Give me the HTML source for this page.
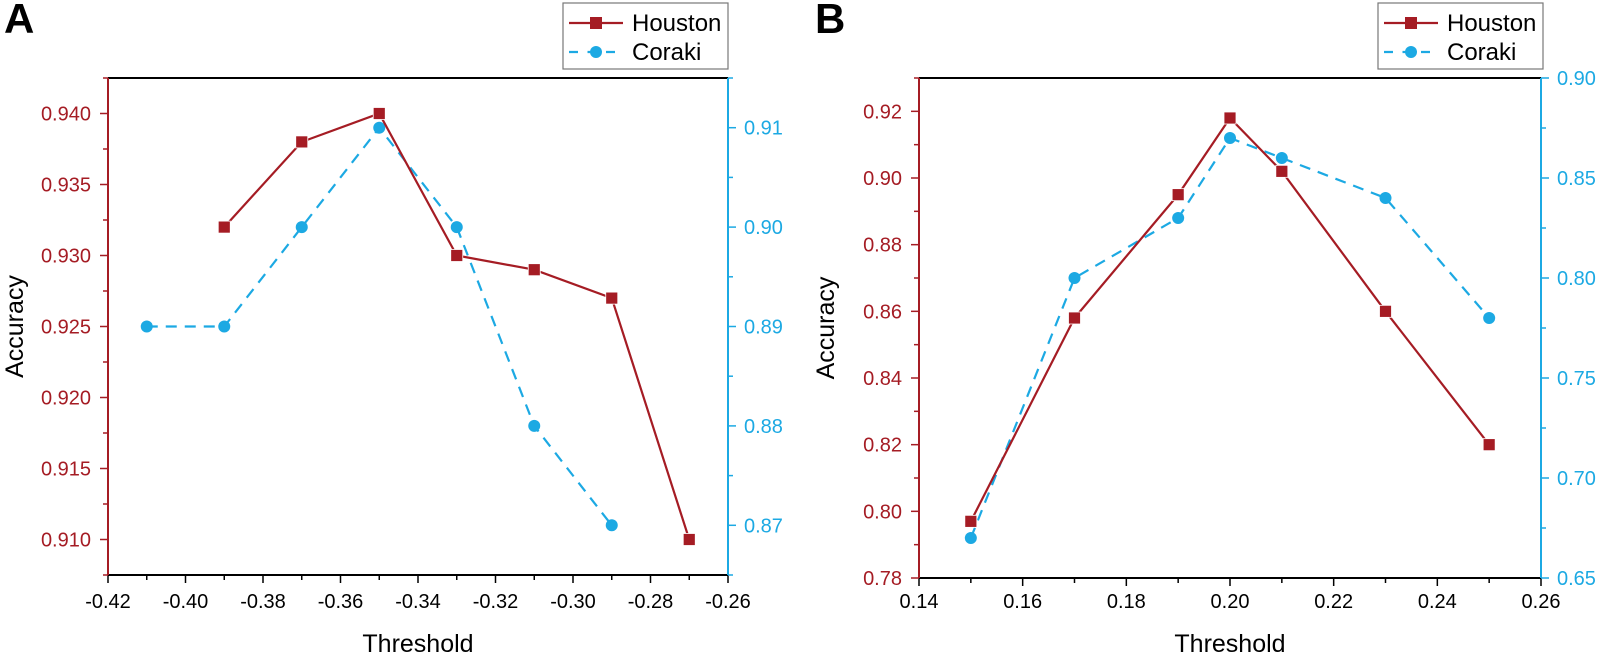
<!DOCTYPE html>
<html><head><meta charset="utf-8"><style>
html,body{margin:0;padding:0;background:#fff;}
svg{display:block;font-family:"Liberation Sans",Arial,sans-serif;}
</style></head><body>
<svg id="s" width="1600" height="655" xmlns="http://www.w3.org/2000/svg"></svg>
<script>
const R="#a51c24",B="#1ca9e3",K="#000";
let o="";
function panel(p){
  const {x0,x1,y0,y1,xmin,xmax,lmin,lmax,rmin,rmax,xmaj,xdec,lmaj,lminor,ldec,rmaj,rminor,rdec,H,C,letter,legX}=p;
  const X=v=>x0+(v-xmin)/(xmax-xmin)*(x1-x0);
  const YL=v=>y1-(v-lmin)/(lmax-lmin)*(y1-y0);
  const YR=v=>y1-(v-rmin)/(rmax-rmin)*(y1-y0);
  o+=`<text x="${x0-104}" y="33" font-size="42" font-weight="bold">${letter}</text>`;
  o+=`<line x1="${x0}" y1="${y0}" x2="${x1}" y2="${y0}" stroke="${K}" stroke-width="2"/>`;
  o+=`<line x1="${x0}" y1="${y1}" x2="${x1}" y2="${y1}" stroke="${K}" stroke-width="2"/>`;
  for(let v=xmin,i=0;v<=xmax+1e-9;v+=xmaj/2,i++){
    const x=X(v),maj=i%2==0;
    o+=`<line x1="${x}" y1="${y1}" x2="${x}" y2="${y1+(maj?8:5)}" stroke="${K}" stroke-width="1.5"/>`;
    if(maj)o+=`<text x="${x}" y="608" font-size="20" text-anchor="middle">${v.toFixed(xdec)}</text>`;
  }
  o+=`<text x="${(x0+x1)/2}" y="652" font-size="25" text-anchor="middle">Threshold</text>`;
  o+=`<text transform="translate(${x0-85},${(y0+y1)/2}) rotate(-90)" font-size="25" text-anchor="middle">Accuracy</text>`;
  o+=`<line x1="${x0}" y1="${y0}" x2="${x0}" y2="${y1}" stroke="${R}" stroke-width="2"/>`;
  for(let v=lmin;v<=lmax+1e-9;v+=lminor){
    const y=YL(v);const maj=Math.abs(Math.round(v/lmaj)*lmaj-v)<1e-7;
    o+=`<line x1="${x0-(maj?8:5)}" y1="${y}" x2="${x0}" y2="${y}" stroke="${R}" stroke-width="1.5"/>`;
    if(maj)o+=`<text x="${x0-17}" y="${y+7}" font-size="20" fill="${R}" text-anchor="end">${v.toFixed(ldec)}</text>`;
  }
  o+=`<line x1="${x1}" y1="${y0}" x2="${x1}" y2="${y1}" stroke="${B}" stroke-width="2"/>`;
  for(let v=rmin;v<=rmax+1e-9;v+=rminor){
    const y=YR(v);const maj=Math.abs(Math.round(v/rmaj)*rmaj-v)<1e-7;
    o+=`<line x1="${x1}" y1="${y}" x2="${x1+(maj?8:5)}" y2="${y}" stroke="${B}" stroke-width="1.5"/>`;
    if(maj)o+=`<text x="${x1+16}" y="${y+7}" font-size="20" fill="${B}">${v.toFixed(rdec)}</text>`;
  }
  o+=`<polyline fill="none" stroke="${B}" stroke-width="2.2" stroke-dasharray="11,8" points="${C.map(d=>X(d[0])+","+YR(d[1])).join(" ")}"/>`;
  C.forEach(d=>o+=`<circle cx="${X(d[0])}" cy="${YR(d[1])}" r="6" fill="${B}"/>`);
  o+=`<polyline fill="none" stroke="${R}" stroke-width="2.2" points="${H.map(d=>X(d[0])+","+YL(d[1])).join(" ")}"/>`;
  H.forEach(d=>o+=`<rect x="${X(d[0])-6}" y="${YL(d[1])-6}" width="12" height="12" fill="${R}" stroke="#fff" stroke-width="0.8"/>`);
  const lx=legX;
  o+=`<rect x="${lx}" y="3" width="165" height="66" fill="#fff" stroke="#777" stroke-width="1.2"/>`;
  o+=`<line x1="${lx+6}" y1="23" x2="${lx+60}" y2="23" stroke="${R}" stroke-width="2.2"/>`;
  o+=`<rect x="${lx+27}" y="17" width="12" height="12" fill="${R}"/>`;
  o+=`<text x="${lx+69}" y="31" font-size="24">Houston</text>`;
  o+=`<line x1="${lx+6}" y1="52" x2="${lx+60}" y2="52" stroke="${B}" stroke-width="2.2" stroke-dasharray="9,9.5"/>`;
  o+=`<circle cx="${lx+33}" cy="52" r="6" fill="${B}"/>`;
  o+=`<text x="${lx+69}" y="60" font-size="24">Coraki</text>`;
}
panel({x0:108,x1:728,y0:78,y1:575,xmin:-0.42,xmax:-0.26,xmaj:0.02,xdec:2,
 lmin:0.9075,lmax:0.9425,lmaj:0.005,lminor:0.0025,ldec:3,
 rmin:0.865,rmax:0.915,rmaj:0.01,rminor:0.005,rdec:2,letter:"A",legX:563,
 H:[[-0.39,.932],[-0.37,.938],[-0.35,.940],[-0.33,.930],[-0.31,.929],[-0.29,.927],[-0.27,.910]],
 C:[[-0.41,.89],[-0.39,.89],[-0.37,.90],[-0.35,.91],[-0.33,.90],[-0.31,.88],[-0.29,.87]]});
panel({x0:919,x1:1541,y0:78,y1:578,xmin:0.14,xmax:0.26,xmaj:0.02,xdec:2,
 lmin:0.78,lmax:0.93,lmaj:0.02,lminor:0.01,ldec:2,
 rmin:0.65,rmax:0.90,rmaj:0.05,rminor:0.025,rdec:2,letter:"B",legX:1378,
 H:[[.15,.797],[.17,.858],[.19,.895],[.20,.918],[.21,.902],[.23,.86],[.25,.82]],
 C:[[.15,.67],[.17,.80],[.19,.83],[.20,.87],[.21,.86],[.23,.84],[.25,.78]]});
document.getElementById("s").innerHTML=o;
</script>
</body></html>
